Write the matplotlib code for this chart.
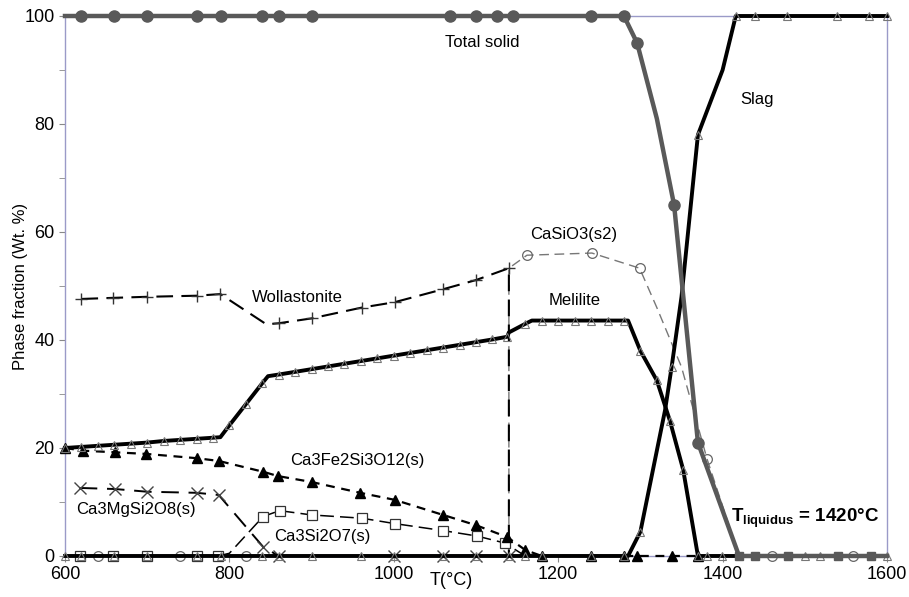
import matplotlib
matplotlib.use("Agg")
import matplotlib.pyplot as plt
from matplotlib.ticker import MultipleLocator

plt.rcParams['font.family'] = ['Liberation Sans', 'DejaVu Sans']
plt.rcParams['mathtext.fontset'] = 'custom'
plt.rcParams['mathtext.rm'] = 'Liberation Sans'
plt.rcParams['mathtext.bf'] = 'Liberation Sans:bold'

# Data
# Total solid
ts_x = [600, 620, 660, 700, 760, 790, 840, 860, 900, 1068, 1100, 1125, 1145, 1240, 1280,
        1296, 1320, 1341, 1370, 1420, 1440, 1480, 1540, 1580, 1600]
ts_y = [100, 100, 100, 100, 100, 100, 100, 100, 100, 100, 100, 100, 100, 100, 100,
        95, 81, 65, 21, 0, 0, 0, 0, 0, 0]

# Slag
slag_x = [600, 620, 660, 700, 760, 790, 840, 860, 900, 960, 1000, 1060, 1100, 1140, 1160,
          1180, 1240, 1280, 1285, 1300, 1330, 1338, 1350, 1370, 1400, 1416, 1439, 1478,
          1539, 1578, 1600]
slag_y = [0, 0, 0, 0, 0, 0, 0, 0, 0, 0, 0, 0, 0, 0, 0,
          0, 0, 0, 0, 4.5, 27, 35, 48, 78, 90, 100, 100, 100,
          100, 100, 100]

# Melilite
mel_x = [600, 620, 640, 660, 680, 700, 720, 740, 760, 780, 789, 800, 820, 840, 847, 860,
         880, 900, 920, 940, 960, 980, 1000, 1020, 1040, 1060, 1080, 1100, 1120, 1138,
         1140, 1160, 1168, 1180, 1200, 1220, 1240, 1260, 1280, 1285, 1300, 1320, 1336,
         1352, 1370, 1381, 1399, 1500, 1518, 1600]
mel_y = [20.0, 20.2, 20.4, 20.6, 20.8, 21.0, 21.3, 21.5, 21.7, 21.9, 22.0, 24.2, 28.1,
         32.0, 33.3, 33.6, 34.1, 34.6, 35.1, 35.6, 36.1, 36.6, 37.1, 37.6, 38.1, 38.6,
         39.1, 39.6, 40.1, 40.6, 41.4, 43.0, 43.6, 43.6, 43.6, 43.6, 43.6, 43.6, 43.6,
         43.6, 38.0, 32.5, 25.0, 16.0, 0, 0, 0, 0, 0, 0]

# Wollastonite
wol_x = [620, 658, 700, 760, 789, 845, 860, 900, 961, 1001, 1060, 1100, 1140, 1140]
wol_y = [47.6, 47.8, 48.0, 48.2, 48.5, 42.9, 43.1, 44.0, 46.0, 47.0, 49.4, 51.1, 53.3, 0]

# CaSiO3(s2)
cs_x = [640, 740, 820, 1140, 1140, 1162, 1241, 1299, 1320, 1350, 1381, 1420, 1460, 1559, 1600]
cs_y = [0, 0, 0, 0, 53.3, 55.7, 56.1, 53.3, 46, 35, 18, 0, 0, 0, 0]

# Ca3Fe2Si3O12(s)
fe_x = [600, 622, 661, 699, 761, 787, 841, 859, 900, 959, 1001, 1060, 1100, 1138, 1160,
        1180, 1240, 1280, 1296, 1338, 1370]
fe_y = [20.0, 19.5, 19.2, 18.9, 18.1, 17.6, 15.6, 14.8, 13.7, 11.7, 10.4, 7.6, 5.7, 3.5,
        1.1, 0, 0, 0, 0, 0, 0]

# Ca3Si2O7(s)
c2_x = [618, 658, 700, 760, 786, 800, 841, 861, 900, 961, 1001, 1060, 1101, 1135, 1160]
c2_y = [0, 0, 0, 0, 0, 0.5, 7.3, 8.4, 7.6, 7.0, 6.0, 4.7, 3.7, 2.4, 0]

# Ca3MgSi2O8(s)
mg_x = [618, 661, 700, 760, 787, 841, 860, 900, 1000, 1060, 1100, 1140]
mg_y = [12.6, 12.4, 11.9, 11.7, 11.3, 1.7, 0, 0, 0, 0, 0, 0]

grey = '#595959'

fig = plt.figure(figsize=(9.09, 5.97), dpi=100)
ax = fig.add_axes([0.0715, 0.0687, 0.9043, 0.9045])

# thin series first
ax.plot(cs_x, cs_y, color='#777777', lw=1, dashes=(7, 4), marker='o', ms=7,
        mfc='none', mec='#666666', mew=0.9, markevery=[0, 1, 2, 5, 6, 7, 10, 12, 13],
        clip_on=False, zorder=3)
ax.plot(wol_x, wol_y, color='black', lw=1.5, dashes=(8, 4), marker='+', ms=9,
        mec='#333333', mew=1, markevery=[0, 1, 2, 3, 4, 6, 7, 8, 9, 10, 11, 12],
        clip_on=False, zorder=3)
ax.plot(c2_x, c2_y, color='black', lw=1.1, dashes=(9, 4), marker='s', ms=7,
        mfc='white', mec='#333333', mew=0.9, markevery=[0, 1, 2, 3, 4] + list(range(6, 14)),
        clip_on=False, zorder=3)
ax.plot(mg_x, mg_y, color='black', lw=1.4, dashes=(9, 5), marker='x', ms=8,
        mec='#444444', mew=1, markevery=[0, 1, 2, 3, 4, 5, 6, 8, 9, 10, 11],
        clip_on=False, zorder=3)
ax.plot(fe_x, fe_y, color='black', lw=1.6, dashes=(4, 3), marker='^', ms=7,
        mfc='black', mec='black', clip_on=False, zorder=4)

# thick lines
mel_marks = [i for i in range(len(mel_x)) if mel_x[i] not in (789, 847, 1140, 1168, 1285)]
ax.plot(mel_x, mel_y, color='black', lw=2.8, marker='^', ms=6, mfc='none',
        mec='#777777', mew=0.8, markevery=mel_marks, clip_on=False, zorder=5)
slag_marks = [i for i in range(len(slag_x)) if slag_x[i] not in (1285, 1330, 1350, 1400)]
ax.plot(slag_x, slag_y, color='black', lw=2.8, marker='^', ms=6, mfc='none',
        mec='#777777', mew=0.8, markevery=slag_marks, clip_on=False, zorder=5)
ax.plot(ts_x, ts_y, color=grey, lw=3.2, clip_on=False, zorder=6)
circ = list(range(1, 16)) + [17, 18]
ax.plot([ts_x[i] for i in circ], [ts_y[i] for i in circ], 'o', color=grey, ms=8,
        clip_on=False, zorder=7)
ax.plot(ts_x[19:24], ts_y[19:24], 's', color=grey, ms=6, clip_on=False, zorder=7)

# labels on the curves
fs = 12
ax.text(1062, 95, 'Total solid', fontsize=fs, va='center')
ax.text(1421, 84.5, 'Slag', fontsize=fs, va='center')
ax.text(828, 47.8, 'Wollastonite', fontsize=fs, va='center')
ax.text(1166, 59.5, 'CaSiO3(s2)', fontsize=fs, va='center')
ax.text(1188, 47.4, 'Melilite', fontsize=fs, va='center')
ax.text(874, 17.6, 'Ca3Fe2Si3O12(s)', fontsize=fs, va='center')
ax.text(613, 8.6, 'Ca3MgSi2O8(s)', fontsize=fs, va='center')
ax.text(855, 3.6, 'Ca3Si2O7(s)', fontsize=fs, va='center')
ax.text(1410, 7.0, r'T$_{\mathbf{liquidus}}$ = 1420°C', fontsize=13.5,
        fontweight='bold', va='center')

ax.set_xlim(600, 1600)
ax.set_ylim(0, 100)
ax.xaxis.set_major_locator(MultipleLocator(200))
ax.yaxis.set_major_locator(MultipleLocator(20))
ax.yaxis.set_minor_locator(MultipleLocator(10))
ax.tick_params(axis='both', which='both', direction='out', color='#888888',
               labelsize=13, length=4)
for s in ax.spines.values():
    s.set_color('#9a9ac8')
    s.set_linewidth(1)

ax.set_ylabel('Phase fraction (Wt. %)', fontsize=12, labelpad=-3)
ax.text(1070, -4.6, 'T(°C)', fontsize=13, ha='center', va='center', clip_on=False)

fig.savefig('out.png', dpi=100)
